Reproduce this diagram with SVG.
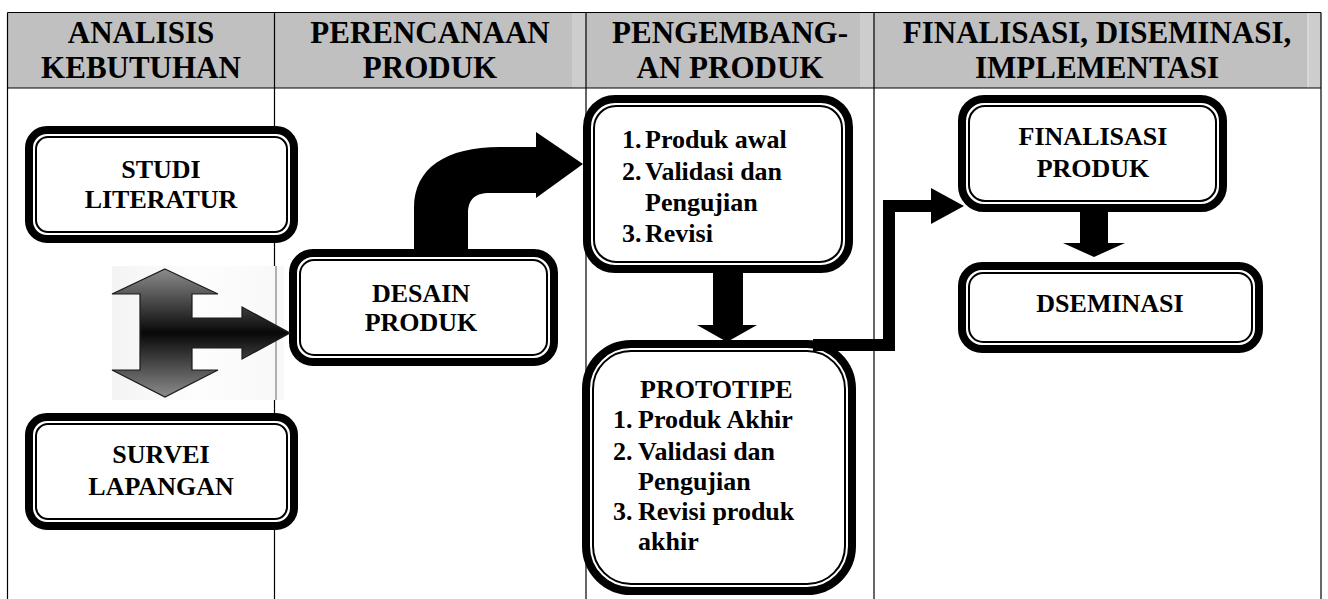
<svg xmlns="http://www.w3.org/2000/svg" width="1328" height="599" viewBox="0 0 1328 599">
<style>
.hdr{font-family:"Liberation Serif","Times New Roman",serif;font-weight:bold;font-size:31px;fill:#000;text-anchor:middle}
.lbl{font-family:"Liberation Serif","Times New Roman",serif;font-weight:bold;font-size:26px;fill:#000}
.mid{text-anchor:middle}
.grid{stroke:#000;stroke-width:1.2;fill:none}
.outer{fill:#fff;stroke:#000;stroke-width:8}
.inner{fill:none;stroke:#000;stroke-width:2}
.conn{fill:#000;stroke:none}
</style>
<defs>
<linearGradient id="g3d" gradientUnits="userSpaceOnUse" x1="0" y1="269" x2="0" y2="397">
<stop offset="0" stop-color="#8c8c8c"/>
<stop offset="0.5" stop-color="#080808"/>
<stop offset="1" stop-color="#8c8c8c"/>
</linearGradient>
<linearGradient id="bgimg" x1="0" y1="0" x2="1" y2="0">
<stop offset="0" stop-color="#f4f4f4"/>
<stop offset="0.5" stop-color="#fdfdfd"/>
<stop offset="1" stop-color="#f8f8f8"/>
</linearGradient>
</defs>
<rect width="1328" height="599" fill="#fff"/>
<g id="table">
<rect x="7.5" y="12.5" width="1313.5" height="75.5" fill="#c0c0c0"/>
<rect x="572" y="13" width="14" height="75" fill="#cdcdcd"/>
<rect x="860" y="13" width="14" height="75" fill="#cdcdcd"/>
<rect x="1308" y="13" width="13" height="75" fill="#cdcdcd"/>
<line x1="1308" y1="13" x2="1308" y2="88" stroke="#e8e8e8" stroke-width="1"/>
<line x1="7.5" y1="12.5" x2="1321" y2="12.5" class="grid"/>
<line x1="7.5" y1="88" x2="1321" y2="88" class="grid"/>
<line x1="7.5" y1="12.5" x2="7.5" y2="599" class="grid"/>
<line x1="1321" y1="12.5" x2="1321" y2="599" class="grid"/>
<line x1="274.5" y1="12.5" x2="274.5" y2="599" class="grid"/>
<line x1="586" y1="12.5" x2="586" y2="599" class="grid"/>
<line x1="874" y1="12.5" x2="874" y2="599" class="grid"/>
<text class="hdr" x="141" y="43">ANALISIS</text>
<text class="hdr" x="141" y="78">KEBUTUHAN</text>
<text class="hdr" x="430" y="43">PERENCANAAN</text>
<text class="hdr" x="430" y="78">PRODUK</text>
<text class="hdr" x="730" y="43">PENGEMBANG-</text>
<text class="hdr" x="730" y="78">AN PRODUK</text>
<text class="hdr" x="1097" y="43">FINALISASI, DISEMINASI,</text>
<text class="hdr" x="1097" y="78">IMPLEMENTASI</text>
</g>
<g id="studi-literatur">
<rect class="outer" x="29" y="130" width="265" height="109" rx="18"/>
<rect class="inner" x="36" y="137" width="251" height="95" rx="12"/>
<text class="lbl mid" x="161" y="178">STUDI</text>
<text class="lbl mid" x="161" y="208">LITERATUR</text>
</g>
<g id="survei-lapangan">
<rect class="outer" x="29" y="417" width="265" height="109" rx="18"/>
<rect class="inner" x="36" y="424" width="251" height="95" rx="12"/>
<text class="lbl mid" x="161" y="463">SURVEI</text>
<text class="lbl mid" x="161" y="495">LAPANGAN</text>
</g>
<g id="desain-produk">
<rect class="outer" x="293" y="253" width="261" height="109" rx="20"/>
<rect class="inner" x="300" y="260" width="247" height="95" rx="14"/>
<text class="lbl mid" x="421" y="302">DESAIN</text>
<text class="lbl mid" x="421" y="331">PRODUK</text>
</g>
<g id="produk-awal">
<rect class="outer" x="587" y="99" width="262" height="170" rx="28"/>
<rect class="inner" x="594" y="106" width="248" height="156" rx="22"/>
<text class="lbl" x="622" y="148">1.</text><text class="lbl" x="645" y="148">Produk awal</text>
<text class="lbl" x="622" y="180">2.</text><text class="lbl" x="645" y="180">Validasi dan</text>
<text class="lbl" x="645" y="211">Pengujian</text>
<text class="lbl" x="622" y="242">3.</text><text class="lbl" x="645" y="242">Revisi</text>
</g>
<g id="prototipe">
<rect class="outer" x="586" y="344" width="266" height="247" rx="45"/>
<rect class="inner" x="593" y="351" width="252" height="233" rx="38"/>
<text class="lbl" x="640" y="398">PROTOTIPE</text>
<text class="lbl" x="613" y="428">1.</text><text class="lbl" x="638" y="428">Produk Akhir</text>
<text class="lbl" x="613" y="460">2.</text><text class="lbl" x="638" y="460">Validasi dan</text>
<text class="lbl" x="638" y="490">Pengujian</text>
<text class="lbl" x="613" y="520">3.</text><text class="lbl" x="638" y="520">Revisi produk</text>
<text class="lbl" x="638" y="550">akhir</text>
</g>
<g id="finalisasi-produk">
<rect class="outer" x="962" y="99" width="261" height="109" rx="22"/>
<rect class="inner" x="969" y="106" width="247" height="95" rx="16"/>
<text class="lbl mid" x="1093" y="145">FINALISASI</text>
<text class="lbl mid" x="1093" y="177">PRODUK</text>
</g>
<g id="dseminasi">
<rect class="outer" x="962" y="266" width="297" height="83" rx="20"/>
<rect class="inner" x="969" y="273" width="283" height="69" rx="14"/>
<text class="lbl mid" x="1110" y="312">DSEMINASI</text>
</g>
<g id="connectors">
<g id="double-arrow">
<rect x="112" y="266" width="172" height="134" fill="url(#bgimg)"/>
<line x1="276" y1="266" x2="276" y2="400" stroke="#999" stroke-width="1.5"/>
<path d="M165,269 L218,294 L192,294 L192,318 L242,318 L242,307 L290,333 L242,359 L242,348 L192,348 L192,370 L218,370 L165,397 L112,370 L140,370 L140,294 L112,294 Z" fill="url(#g3d)" stroke="#1a1a1a" stroke-width="1.2"/>
</g>
<path class="conn" d="M414,251 L414,208 C414,168 446,147 500,147 L536,147 L536,132 L583,164 L536,198 L536,193 L490,193 C474,193 468,200 468,214 L468,251 Z"/>
<path class="conn" d="M713,272 L743,272 L743,325 L757,325 L727,342 L697,325 L713,325 Z"/>
<polyline points="813,345 889,345 889,206 933,206" fill="none" stroke="#000" stroke-width="12"/>
<path class="conn" d="M931,188 L964,206 L931,224 Z"/>
<path class="conn" d="M1080,211 L1108,211 L1108,243 L1125,243 L1094,257 L1063,243 L1080,243 Z"/>
</g>
</svg>
